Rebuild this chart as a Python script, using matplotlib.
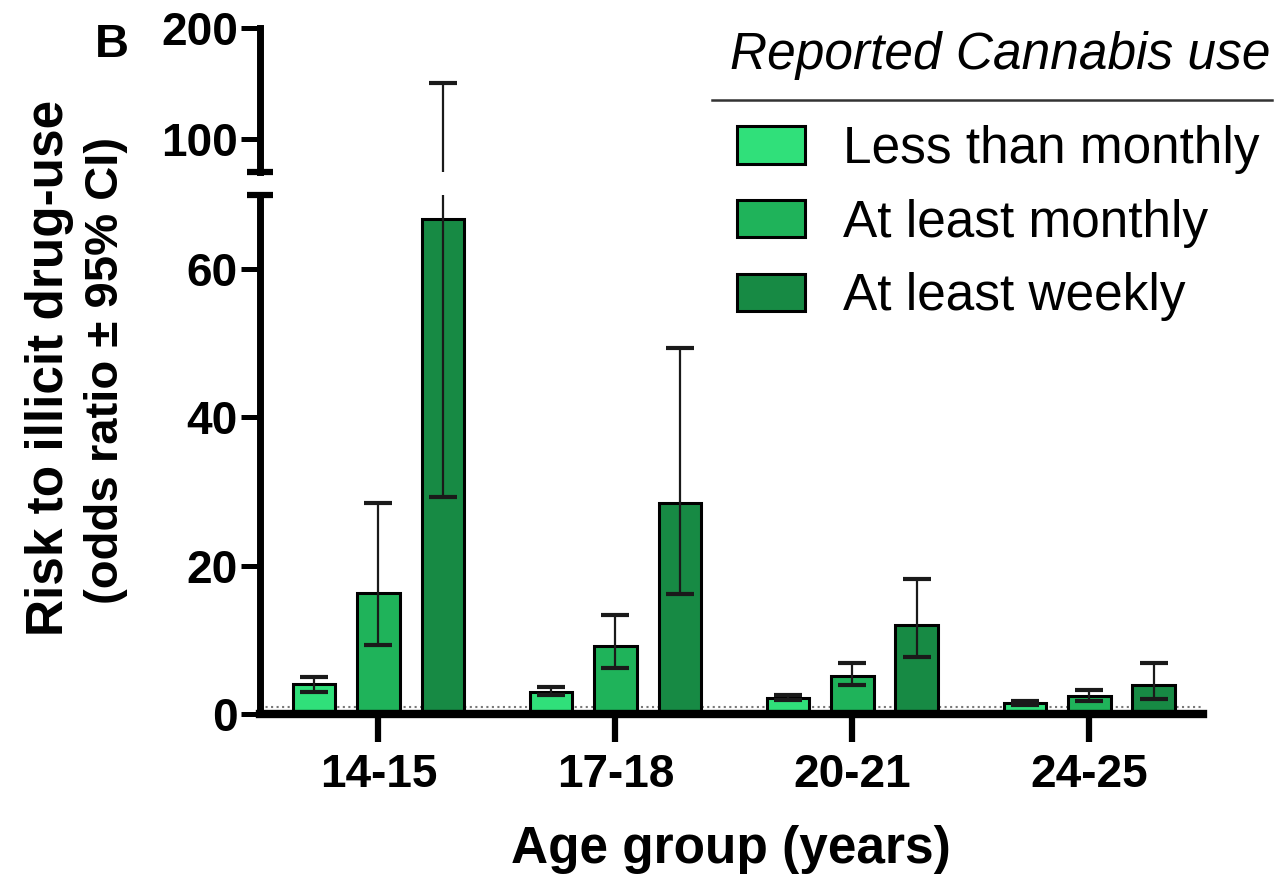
import numpy as np
import matplotlib.pyplot as plt
from matplotlib.lines import Line2D

plt.rcParams['font.family'] = ['Liberation Sans', 'DejaVu Sans']

# odds ratios and 95% CI bounds per age group
groups = ['14-15', '17-18', '20-21', '24-25']
series = ['Less than monthly', 'At least monthly', 'At least weekly']
less = [4.0, 3.0, 2.2, 1.5]
less_lo = [2.9, 2.5, 1.9, 1.2]
less_hi = [5.0, 3.6, 2.6, 1.8]
monthly = [16.3, 9.2, 5.1, 2.4]
monthly_lo = [9.3, 6.2, 3.9, 1.8]
monthly_hi = [28.4, 13.4, 6.9, 3.3]
weekly = [66.8, 28.4, 12.0, 3.9]
weekly_lo = [29.3, 16.2, 7.7, 2.0]
weekly_hi = [150.0, 49.3, 18.2, 6.9]

colors = ['#30e07a', '#1fb35a', '#178a44']
values = [less, monthly, weekly]
lows = [less_lo, monthly_lo, weekly_lo]
highs = [less_hi, monthly_hi, weekly_hi]

W, H = 1283, 885
fig = plt.figure(figsize=(W / 100, H / 100), dpi=100)

left, right = 260 / W, 1203 / W
ax_lo = fig.add_axes([left, 1 - 714 / H, right - left, (714 - 195) / H])
ax_hi = fig.add_axes([left, 1 - 172 / H, right - left, (172 - 28) / H])

x = np.arange(len(groups))
offsets = [-0.272, 0.0, 0.272]
bw = 0.18

for ax in (ax_lo, ax_hi):
    for k in range(3):
        v = np.array(values[k])
        err = [v - np.array(lows[k]), np.array(highs[k]) - v]
        ax.bar(x + offsets[k], v, width=bw, color=colors[k], edgecolor='black',
               linewidth=2.2, zorder=2, label=series[k])
        ax.errorbar(x + offsets[k], v, yerr=err, fmt='none', ecolor='#1a1a1a',
                    elinewidth=1.6, capsize=10, capthick=3, zorder=3)
    ax.set_xlim(-0.5, 3.48)
    for s in ('top', 'right'):
        ax.spines[s].set_visible(False)
    ax.spines['left'].set_linewidth(5)
    ax.tick_params(axis='y', direction='out', length=14, width=3.6,
                   labelsize=33, pad=2)

# lower segment
ax_lo.set_ylim(0, 70)
ax_lo.set_yticks([0, 20, 40, 60])
ax_lo.spines['bottom'].set_linewidth(6)
ax_lo.axhline(1, color='#777777', lw=1.5, ls=':', zorder=1)
ax_lo.set_xticks(x)
ax_lo.set_xticklabels(groups, fontsize=33, fontweight='bold')
ax_lo.tick_params(axis='x', direction='out', length=20, width=4.5, pad=8)
for lab in ax_lo.get_yticklabels():
    lab.set_fontweight('bold')

# upper segment
ax_hi.set_ylim(70, 200)
ax_hi.set_yticks([100, 200])
ax_hi.spines['bottom'].set_visible(False)
ax_hi.set_xticks([])
for lab in ax_hi.get_yticklabels():
    lab.set_fontweight('bold')

# break caps on the y axis
cap = 13 / (1203 - 260)
ax_hi.plot([-cap, cap], [0, 0], transform=ax_hi.transAxes, color='black',
           lw=4.5, clip_on=False, solid_capstyle='butt')
ax_lo.plot([-cap, cap], [1, 1], transform=ax_lo.transAxes, color='black',
           lw=4.5, clip_on=False, solid_capstyle='butt')

fig.text(731 / W, 1 - 850 / H, 'Age group (years)', fontsize=37,
         fontweight='bold', ha='center', va='center')
fig.text(50 / W, 1 - 368 / H, 'Risk to illicit drug-use', rotation=90,
         fontsize=37, fontweight='bold', ha='center', va='center')
fig.text(106 / W, 1 - 370 / H, '(odds ratio ± 95% CI)', rotation=90,
         fontsize=34, fontweight='bold', ha='center', va='center')
fig.text(112 / W, 1 - 45 / H, 'B', fontsize=34, fontweight='bold',
         ha='center', va='center')

# legend with underlined title
fig.text(1000 / W, 1 - 55 / H, 'Reported Cannabis use', fontsize=37,
         style='italic', ha='center', va='center')
fig.add_artist(Line2D([712 / W, 1272 / W], [1 - 100 / H, 1 - 100 / H],
                      color='#333333', lw=1.8))
handles, labels = ax_lo.get_legend_handles_labels()
fig.legend(handles, labels, loc='upper left',
           bbox_to_anchor=(737 / W, 1 - 125 / H), frameon=False,
           fontsize=37, handlelength=1.32, handleheight=0.74,
           handletextpad=0.74, labelspacing=0.48, borderpad=0,
           borderaxespad=0)

fig.savefig('out.png', dpi=100)
